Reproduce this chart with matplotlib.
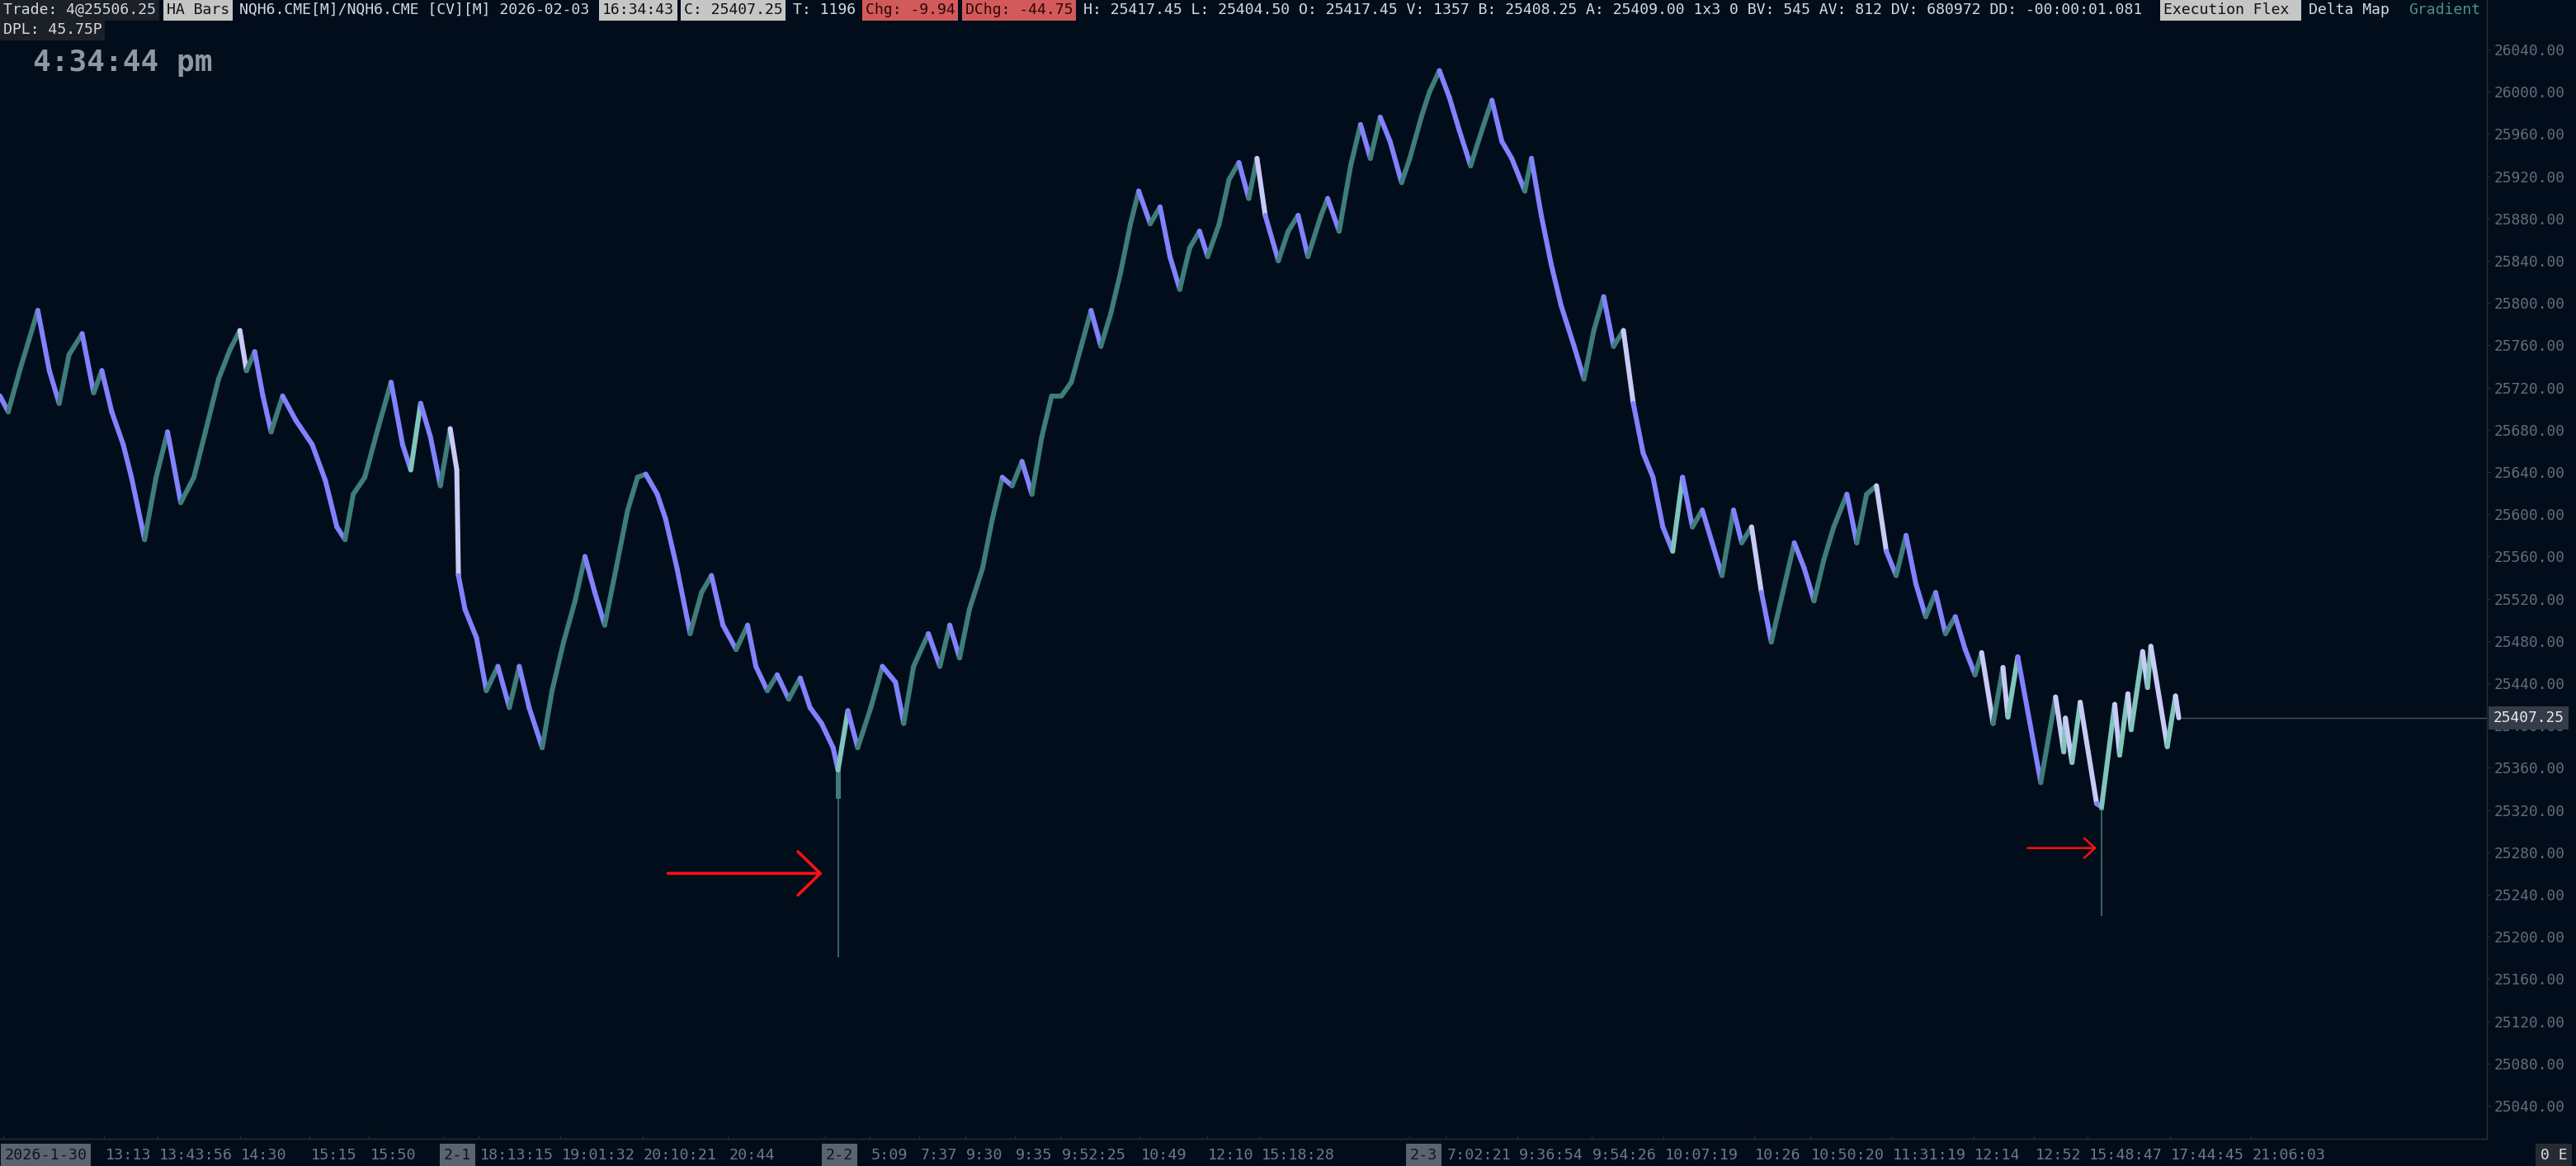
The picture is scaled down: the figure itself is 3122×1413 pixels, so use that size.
import matplotlib
matplotlib.use('Agg')
import matplotlib.pyplot as plt
import matplotlib.transforms as mtransforms
from matplotlib.collections import LineCollection
import numpy as np

W, H = 3122, 1413
BG = '#020d1b'
MONO = 'DejaVu Sans Mono'

# ---- price path (bar index, close) ----
bars = [0, 10, 24, 46, 60, 72, 84, 100, 114, 124, 136, 150, 160, 176, 190, 204, 220, 236, 250, 266,
        280, 292, 300, 310, 320, 330, 344, 360, 380, 396, 410, 420, 430, 444, 460, 476, 490, 500, 512, 524,
        536, 548, 556, 558, 566, 580, 592, 606, 620, 632, 644, 660, 672, 686, 700, 712, 724, 736, 750, 764,
        776, 786, 800, 810, 824, 840, 854, 866, 880, 896, 910, 920, 934, 946, 960, 974, 986, 1000, 1014, 1020,
        1032, 1044, 1060, 1074, 1090, 1100, 1112, 1130, 1144, 1156, 1168, 1180, 1196, 1208, 1220, 1232, 1244, 1256, 1268, 1280,
        1292, 1304, 1316, 1328, 1340, 1352, 1364, 1376, 1386, 1400, 1412, 1424, 1436, 1448, 1460, 1470, 1484, 1496, 1508, 1520,
        1530, 1540, 1556, 1568, 1580, 1592, 1608, 1616, 1630, 1644, 1656, 1668, 1680, 1692, 1706, 1716, 1730, 1740, 1752, 1764,
        1776, 1790, 1806, 1816, 1828, 1840, 1856, 1864, 1876, 1888, 1900, 1916, 1928, 1940, 1952, 1964, 1976, 1988, 2000, 2012,
        2024, 2036, 2048, 2060, 2072, 2084, 2096, 2110, 2120, 2132, 2144, 2156, 2170, 2184, 2196, 2208, 2220, 2232, 2248, 2260,
        2272, 2284, 2296, 2308, 2320, 2332, 2344, 2356, 2368, 2380, 2392, 2404, 2412, 2426, 2438, 2444, 2456, 2484, 2502, 2512,
        2514, 2522, 2532, 2552, 2558, 2574, 2580, 2590, 2594, 2608, 2614, 2618, 2638, 2648, 2652]
closes = [25712, 25697, 25736, 25793, 25736, 25705, 25751, 25771, 25715, 25736, 25697, 25666, 25635, 25576, 25635, 25678, 25611, 25635, 25678, 25728,
          25756, 25774, 25736, 25754, 25712, 25678, 25712, 25689, 25666, 25632, 25588, 25576, 25619, 25635, 25681, 25725, 25666, 25642, 25705, 25673,
          25627, 25681, 25642, 25542, 25510, 25483, 25433, 25456, 25417, 25456, 25417, 25379, 25433, 25479, 25518, 25560, 25526, 25495, 25549, 25604,
          25635, 25638, 25619, 25596, 25549, 25487, 25526, 25542, 25495, 25472, 25495, 25456, 25433, 25448, 25425, 25445, 25417, 25402, 25379, 25358,
          25414, 25379, 25417, 25456, 25441, 25402, 25456, 25487, 25456, 25495, 25464, 25510, 25549, 25596, 25635, 25627, 25650, 25619, 25673, 25712,
          25712, 25725, 25759, 25793, 25759, 25790, 25829, 25875, 25906, 25875, 25891, 25844, 25813, 25852, 25868, 25844, 25875, 25917, 25933, 25899,
          25937, 25883, 25840, 25868, 25883, 25844, 25883, 25899, 25868, 25930, 25969, 25937, 25976, 25953, 25914, 25937, 25976, 26000, 26020, 25995,
          25964, 25930, 25969, 25992, 25953, 25937, 25906, 25937, 25883, 25837, 25798, 25759, 25728, 25774, 25806, 25759, 25774, 25705, 25658, 25635,
          25588, 25565, 25635, 25588, 25604, 25573, 25542, 25604, 25573, 25588, 25526, 25479, 25526, 25573, 25549, 25518, 25557, 25588, 25619, 25573,
          25619, 25627, 25565, 25542, 25580, 25534, 25503, 25526, 25487, 25503, 25472, 25448, 25469, 25402, 25455, 25408, 25465, 25346, 25427, 25375,
          25407, 25365, 25422, 25326, 25323, 25420, 25372, 25430, 25396, 25470, 25436, 25475, 25380, 25428, 25407.25]

# long lower wicks
wick_bars = [1020, 2558]
wick_tops = [25358, 25323]
wick_body_lows = [25331, 25320]
wick_lows = [25181, 25220]

last_price = 25407.25

# red arrows: (tail bar, tip bar, price)
arrow_tails = [813, 2468]
arrow_tips = [1001, 2552]
arrow_prices = [25260, 25284]

yticks = list(range(25040, 26041, 40))

xtick_bars = [4, 127, 192, 292, 377, 449, 539, 583, 682, 782, 886, 1004, 1059, 1119, 1175, 1235, 1291,
              1387, 1469, 1534, 1715, 1760, 1847, 1937, 2025, 2135, 2203, 2302, 2402, 2476, 2541, 2641, 2740]
xtick_labels = ['2026-1-30', '13:13', '13:43:56', '14:30', '15:15', '15:50', '2-1', '18:13:15', '19:01:32',
                '20:10:21', '20:44', '2-2', '5:09', '7:37', '9:30', '9:35', '9:52:25', '10:49', '12:10',
                '15:18:28', '2-3', '7:02:21', '9:36:54', '9:54:26', '10:07:19', '10:26', '10:50:20',
                '11:31:19', '12:14', '12:52', '15:48:47', '17:44:45', '21:06:03']
date_labels = {'2026-1-30', '2-1', '2-2', '2-3'}

# header row: (char index, text, text colour, box colour)
header = [
    (0, 'Trade: 4@25506.25', '#d5d9df', '#1b2029'),
    (18, 'HA Bars', '#111111', '#c6c6c6'),
    (26, 'NQH6.CME[M]/NQH6.CME [CV][M] 2026-02-03', '#d5d9df', None),
    (66, '16:34:43', '#111111', '#c6c6c6'),
    (75, 'C: 25407.25', '#111111', '#c6c6c6'),
    (87, 'T: 1196', '#d5d9df', None),
    (95, 'Chg: -9.94', '#2a0808', '#d35a5a'),
    (106, 'DChg: -44.75', '#2a0808', '#d35a5a'),
    (119, 'H: 25417.45 L: 25404.50 O: 25417.45 V: 1357 B: 25408.25 A: 25409.00 1x3 0 '
          'BV: 545 AV: 812 DV: 680972 DD: -00:00:01.081', '#d5d9df', None),
    (238, 'Execution Flex ', '#111111', '#c6c6c6'),
    (254, 'Delta Map', '#d5d9df', None),
    (265, 'Gradient', '#4e8f8a', None),
]
CHAR_W = 11.0

TEAL = '#3e7d7a'
TEAL_LIGHT = '#7fc5bb'
PURPLE = '#8282ff'
LAVENDER = '#cacaf6'

fig = plt.figure(figsize=(W / 100, H / 100), dpi=100, facecolor=BG)
ax = fig.add_axes([0, 33 / H, 3014 / W, 1380 / H])
ax.set_facecolor(BG)
ax.set_xlim(0, 3027)
ax.set_ylim(25008.75, 26086.875)

# zigzag of HA bars drawn as coloured segments
pts = np.column_stack([bars, closes])
segs = np.stack([pts[:-1], pts[1:]], axis=1)
slope = np.diff(closes) / np.diff(bars)
cols = []
for s in slope:
    if s >= 0:
        cols.append(TEAL_LIGHT if s > 4.5 else TEAL)
    else:
        cols.append(LAVENDER if s < -4.5 else PURPLE)
lc = LineCollection(segs, colors=cols, linewidths=4.3, capstyle='round', joinstyle='round', zorder=3)
ax.add_collection(lc)

ax.vlines(wick_bars, wick_lows, wick_tops, colors=TEAL, linewidth=1.1, zorder=2)
ax.vlines(wick_bars, wick_body_lows, wick_tops, colors=TEAL, linewidth=4.3, zorder=2)

# last price line
ax.hlines(last_price, bars[-1], 3027, colors='#4a525e', linewidth=1, zorder=1)

# arrows
heads = [(1.95, 1.9, 2.6), (0.95, 0.86, 1.8)]
for t0, t1, p, (hl, hw, lw) in zip(arrow_tails, arrow_tips, arrow_prices, heads):
    ax.annotate('', xy=(t1, p), xytext=(t0, p),
                arrowprops=dict(arrowstyle='->,head_length=%s,head_width=%s' % (hl, hw),
                                color='#ff1010', lw=lw, mutation_scale=10, shrinkA=0, shrinkB=0),
                zorder=4)

# axes styling
for side in ['left', 'top']:
    ax.spines[side].set_visible(False)
for side in ['right', 'bottom']:
    ax.spines[side].set_color('#262d38')
    ax.spines[side].set_linewidth(1)
ax.yaxis.tick_right()
ax.set_yticks(yticks)
ax.set_yticklabels(['%.2f' % v for v in yticks])
ax.tick_params(axis='y', colors='#262d38', labelcolor='#646c7a', length=3, pad=3,
               labelsize=12.9, labelfontfamily=MONO)
ax.set_xticks(xtick_bars)
ax.set_xticklabels([])
ax.tick_params(axis='x', colors='#262d38', length=3, direction='in')

xtr = mtransforms.blended_transform_factory(ax.transData, ax.transAxes)
for b, lab in zip(xtick_bars, xtick_labels):
    if lab in date_labels:
        ax.annotate(lab, xy=(b, 0), xycoords=xtr, xytext=(1, -14.4), textcoords='offset points',
                    ha='left', va='center', fontsize=13.2, family=MONO, color='#0f141b',
                    bbox=dict(boxstyle='square,pad=0.25', fc='#5b6371', ec='none'),
                    annotation_clip=False)
    else:
        ax.annotate(lab, xy=(b, 0), xycoords=xtr, xytext=(1, -14.4), textcoords='offset points',
                    ha='left', va='center', fontsize=13.2, family=MONO, color='#6f7887',
                    annotation_clip=False)

# current price tag (covers the 25400 label as in the platform)
ytr = mtransforms.blended_transform_factory(ax.transAxes, ax.transData)
ax.annotate('%.2f' % last_price, xy=(1, last_price), xycoords=ytr, xytext=(5.5, 0),
            textcoords='offset points', ha='left', va='center', fontsize=12.9, family=MONO,
            color='#e6ebf2', bbox=dict(boxstyle='square,pad=0.3', fc='#363c47', ec='none'),
            annotation_clip=False, zorder=10)

# header
for idx, txt, c, bg in header:
    kw = {}
    if bg:
        kw['bbox'] = dict(boxstyle='square,pad=0.2', fc=bg, ec='none')
    fig.text((idx * CHAR_W + 4) / W, 1 - 12 / H, txt, ha='left', va='center', fontsize=13.1,
             family=MONO, color=c, **kw)
fig.text(4 / W, 1 - 36 / H, 'DPL: 45.75P', ha='left', va='center', fontsize=13.1, family=MONO,
         color='#d5d9df', bbox=dict(boxstyle='square,pad=0.2', fc='#1b2029', ec='none'))

fig.text(40 / W, 1 - 76 / H, '4:34:44 pm', ha='left', va='center', fontsize=26, family=MONO,
         weight='bold', color='#8f97a4')

fig.text(3095 / W, 13 / H, '0 E', ha='center', va='center', fontsize=13, family=MONO,
         color='#e0e0e0', bbox=dict(boxstyle='square,pad=0.3', fc='#262b33', ec='none'))

fig.savefig('out.png', dpi=100, facecolor=BG)
